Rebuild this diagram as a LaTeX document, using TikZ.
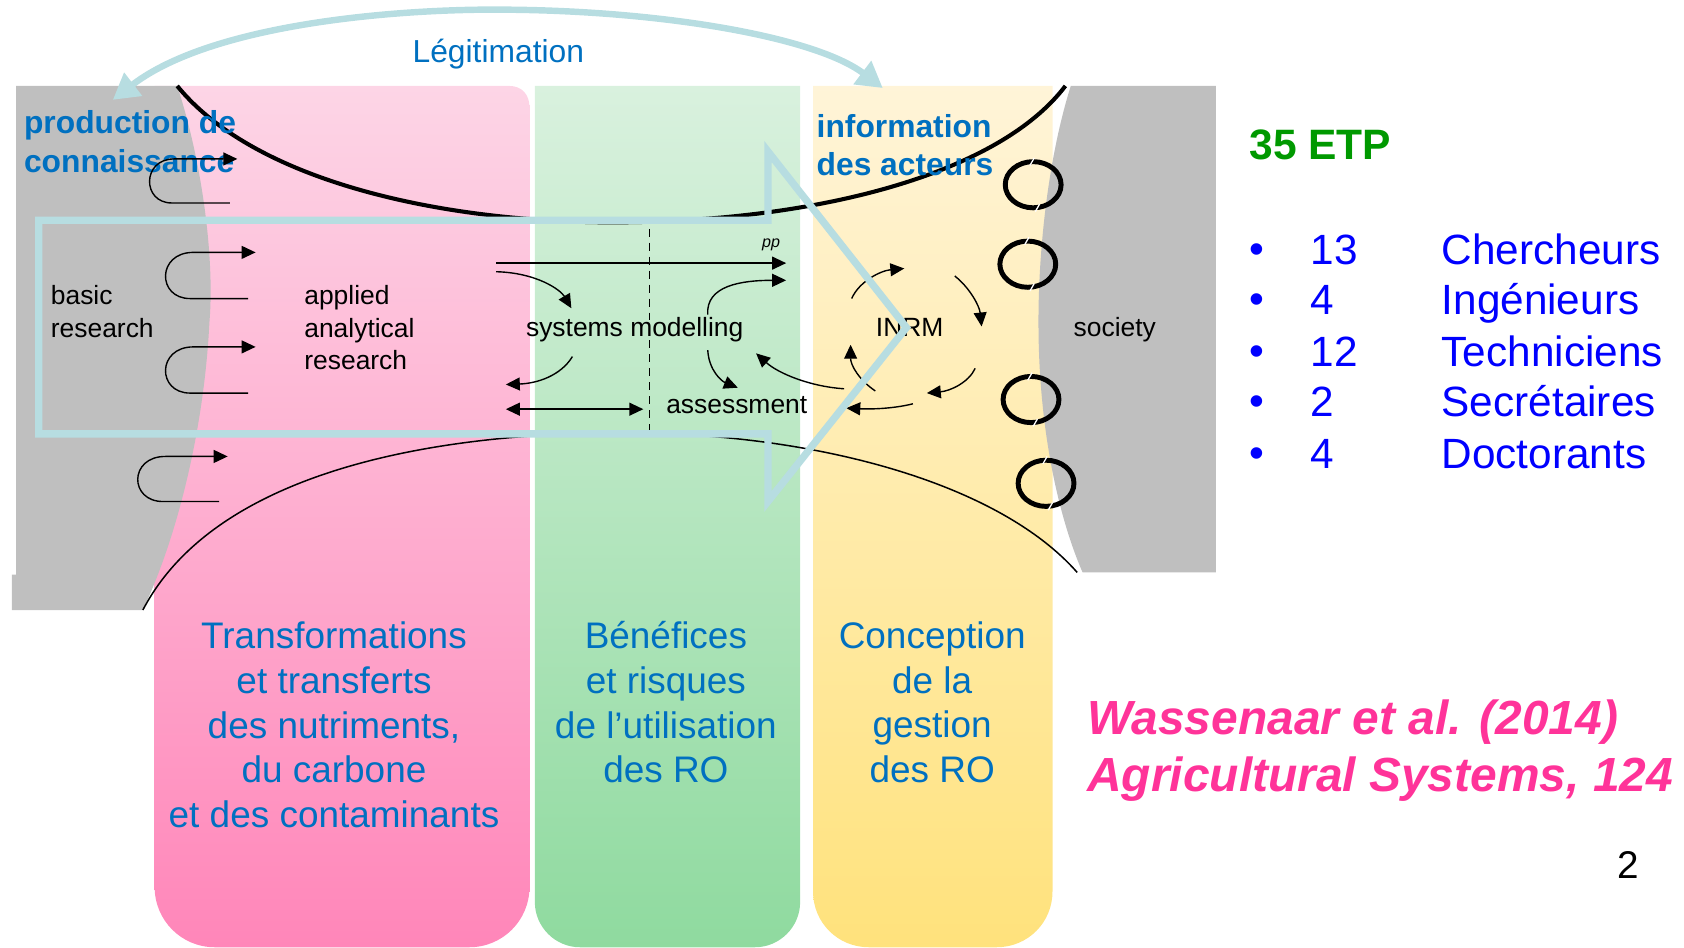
\documentclass[tikz,border=0pt]{standalone}
\usepackage{fontspec}
\setmainfont{Liberation Sans}
\usetikzlibrary{arrows.meta}
\definecolor{txtblue}{HTML}{0070C0}
\definecolor{listblue}{HTML}{0000FF}
\definecolor{etpgreen}{HTML}{009900}
\definecolor{citepink}{HTML}{FF3399}
\definecolor{cyanline}{HTML}{B7DDE1}
\definecolor{grayfill}{HTML}{BFBFBF}
\definecolor{pinkT}{HTML}{FDD5E6}
\definecolor{pinkB}{HTML}{FF86B9}
\definecolor{greenT}{HTML}{D9F1DE}
\definecolor{greenB}{HTML}{8FDA9F}
\definecolor{yelT}{HTML}{FFF4D8}
\definecolor{yelB}{HTML}{FFE27C}
\newcommand\fs[2]{\fontsize{#1}{#2}\selectfont}
\begin{document}
\begin{tikzpicture}[x=0.5pt,y=-0.5pt,
  arr/.style={line width=0.65pt,-{Triangle[length=6.5pt,width=6pt]}},
  darr/.style={line width=0.65pt,{Triangle[length=6.5pt,width=6pt]}-{Triangle[length=6.5pt,width=6pt]}},
  lbl/.style={inner sep=0pt,font=\fs{12.3pt}{15pt}},
  head/.style={inner sep=0pt,text=txtblue,font=\fs{14.8pt}{18pt}\bfseries,align=left,anchor=west},
  coltxt/.style={inner sep=0pt,text=txtblue,font=\fs{17.2pt}{20.85pt},align=center},
  ring/.style={line width=2.3pt},
  cut/.style={white,line width=0.6pt}]
\useasboundingbox (0,0) rectangle (1568,882);
% columns
\shade[top color=pinkT,bottom color=pinkB] (144,80) -- (144,826) .. controls (144,857) and (169,882) .. (200,882) -- (437,882) .. controls (468,882) and (493,857) .. (493,826) -- (493,100) .. controls (493,88) and (486,80) .. (474,80) -- cycle;
\shade[top color=greenT,bottom color=greenB] (498,80) -- (498,840) .. controls (498,863) and (517,882) .. (540,882) -- (703,882) .. controls (726,882) and (745,863) .. (745,840) -- (745,80) -- cycle;
\shade[top color=yelT,bottom color=yelB] (757,80) -- (757,830) .. controls (757,859) and (780,882) .. (809,882) -- (928,882) .. controls (957,882) and (980,859) .. (980,830) -- (980,80) -- cycle;
% gray areas
\fill[grayfill] (15,80) -- (165,80) .. controls (188,150) and (200,240) .. (195,300) .. controls (190,400) and (165,500) .. (133,568) -- (11,568) -- (11,535) -- (15,535) -- cycle;
\fill[grayfill] (997,80) .. controls (975,150) and (966,240) .. (967,310) .. controls (968,400) and (985,480) .. (1008,533) -- (1132,533) -- (1132,80) -- cycle;
% big curves
\coordinate (tcL) at (165,80);
\coordinate (tcR) at (992,80);
\coordinate (bcL) at (133,568);
\coordinate (bcR) at (1003,533);
\draw[line width=1.9pt] (tcL) .. controls (240,172) and (420,207) .. (570,207) .. controls (760,207) and (930,162) .. (tcR);
\draw[line width=0.7pt] (bcL) .. controls (200,440) and (400,403) .. (580,403) .. controls (760,403) and (930,450) .. (bcR);
% texts
\node[head] (prod) at (22,132) {production de\\connaissance};
\node[head] (info) at (760,135) {information\\des acteurs};
\node[lbl,align=left,anchor=west] (basic) at (47,290) {basic\\research};
\node[lbl,align=left,anchor=west] (applied) at (283,305) {applied\\analytical\\research};
\node[lbl] (sysmod) at (591,307) {systems modelling};
\node[lbl] (assess) at (686,377) {assessment};
\node[inner sep=0pt,font=\fs{7.5pt}{9pt}\itshape] (pp) at (718,228) {pp};
\node[lbl] (inrm) at (847,305) {INRM};
\node[lbl] (society) at (1038,307) {society};
\node[inner sep=0pt,text=txtblue,font=\fs{14.8pt}{18pt}] (legit) at (464,50) {Légitimation};
\node[coltxt] (coltA) at (311,675) {Transformations\\et transferts\\des nutriments,\\du carbone\\et des contaminants};
\node[coltxt] (coltB) at (620,654) {Bénéfices\\et risques\\de l’utilisation\\des RO};
\node[coltxt] (coltC) at (868,654) {Conception\\de la\\gestion\\des RO};
\node[inner sep=0pt,text=etpgreen,font=\fs{19.8pt}{24pt}\bfseries,anchor=west] (etp) at (1163,135) {35 ETP};
\foreach \i/\n/\w/\yy in {1/13/Chercheurs/232,2/4/Ingénieurs/279,3/12/Techniciens/327,4/2/Secrétaires/374,5/4/Doctorants/422}{
  \node[inner sep=0pt,text=listblue,font=\fs{19.7pt}{24pt}] (bul\i) at (1170,\yy+4) {•};
  \node[inner sep=0pt,text=listblue,font=\fs{19.7pt}{24pt},anchor=base west] (num\i) at (1220,\yy+14) {\n};
  \node[inner sep=0pt,text=listblue,font=\fs{19.7pt}{24pt},anchor=base west] (nam\i) at (1342,\yy+14) {\w};
}
\node[inner sep=0pt,text=citepink,font=\fs{22.3pt}{26.5pt}\bfseries\itshape,align=left,anchor=west] (cite) at (1012,699) {Wassenaar et al. (2014)\\Agricultural Systems, 124};
\node[inner sep=0pt,font=\fs{18pt}{22pt}] (pnum) at (1516,805) {2};
% hook arrows
\coordinate (h1e) at (214,189); \coordinate (h1t) at (221,148);
\coordinate (h2e) at (231,278); \coordinate (h2t) at (238,235);
\coordinate (h3e) at (231,366); \coordinate (h3t) at (238,323);
\coordinate (h4e) at (204,467); \coordinate (h4t) at (212,425);
\draw[arr] (h1e) -- (160,189) .. controls (132,189) and (132,148) .. (162,148) -- (h1t);
\draw[arr] (h2e) -- (177,278) .. controls (146,278) and (146,235) .. (180,235) -- (h2t);
\draw[arr] (h3e) -- (177,366) .. controls (146,366) and (146,323) .. (180,323) -- (h3t);
\draw[arr] (h4e) -- (152,467) .. controls (120,467) and (120,425) .. (154,425) -- (h4t);
% model arrows
\coordinate (la1) at (462,245); \coordinate (la2) at (732,245);
\draw[arr] (la1) -- (la2);
\coordinate (c1a) at (462,253); \coordinate (c1b) at (532,287);
\draw[arr] (c1a) .. controls (500,254) and (522,270) .. (c1b);
\coordinate (c2a) at (533,332); \coordinate (c2b) at (471,358);
\draw[arr] (c2a) .. controls (522,350) and (500,357) .. (c2b);
\coordinate (dba) at (471,381); \coordinate (dbb) at (599,381);
\draw[darr] (dba) -- (dbb);
\coordinate (dsa) at (605,213); \coordinate (dsb) at (605,400);
\draw[line width=0.65pt,dash pattern=on 3.7pt off 2.8pt] (dsa) -- (dsb);
\coordinate (upa) at (659,293); \coordinate (upb) at (732,261);
\draw[arr] (upa) .. controls (657,266) and (690,261) .. (upb);
\coordinate (dna) at (659,326); \coordinate (dnb) at (687,361);
\draw[arr] (dna) .. controls (660,345) and (672,355) .. (dnb);
\coordinate (fa) at (786,362); \coordinate (fb) at (704,329);
\draw[arr] (fa) .. controls (755,360) and (725,348) .. (fb);
% INRM cycle
\coordinate (ia1) at (793,278); \coordinate (ia2) at (842,250);
\coordinate (ib1) at (889,257); \coordinate (ib2) at (914,304);
\coordinate (ic1) at (908,343); \coordinate (ic2) at (863,366);
\coordinate (id1) at (850,376); \coordinate (id2) at (788,380);
\coordinate (ie1) at (815,364); \coordinate (ie2) at (792,321);
\draw[arr] (ia1) .. controls (800,262) and (820,252) .. (ia2);
\draw[arr] (ib1) .. controls (903,268) and (912,285) .. (ib2);
\draw[arr] (ic1) .. controls (902,356) and (885,364) .. (ic2);
\draw[arr] (id1) .. controls (830,381) and (808,381) .. (id2);
\draw[arr] (ie1) .. controls (800,354) and (792,340) .. (ie2);
% cyan arrow shape
\draw[cyanline,line width=3.4pt,line join=miter] (36,205) -- (715,205) -- (715,141) -- (844,305) -- (715,467) -- (715,404) -- (36,404) -- cycle;
% legitimation arc
\coordinate (lgA) at (105,93);
\coordinate (lgB) at (822,82);
\draw[cyanline,line width=3pt,{Triangle[length=12pt,width=13pt]}-{Triangle[length=12pt,width=13pt]}] (lgA) .. controls (200,20) and (380,8) .. (470,9) .. controls (620,10) and (760,35) .. (lgB);
% rings
\foreach \k/\cx/\cy in {1/962/172,2/957/246,3/960/372,4/974/450}{
  \draw[ring] (\cx,\cy) ellipse [x radius=26, y radius=21.5];
  \coordinate (rk\k) at (\cx,\cy);
  \draw[cut] (\cx-3,\cy-18) -- (\cx+1,\cy-25);
  \draw[cut] (\cx+2,\cy+25) -- (\cx+6,\cy+18);
}
\end{tikzpicture}
\end{document}
